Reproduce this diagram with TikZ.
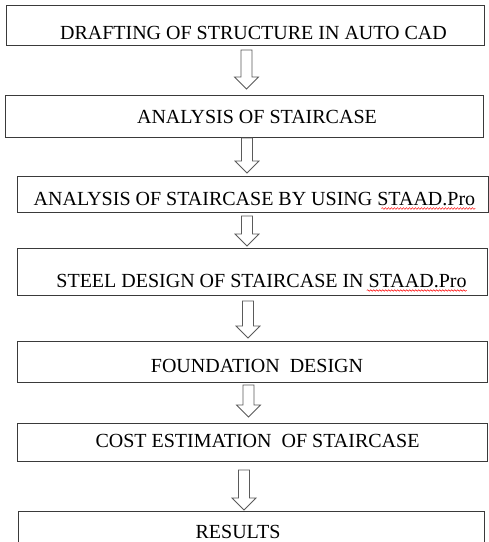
\documentclass[tikz,border=0pt]{standalone}
\usepackage{fontspec}
\setmainfont{Liberation Serif}
\usetikzlibrary{calc,decorations.pathmorphing}
\definecolor{boxgray}{HTML}{3A3A3A}
\definecolor{arrowgray}{HTML}{5A5A5A}
\newcommand\blockarr[2]{%
  \draw[blk] ($(#1)+(-5.5,0)$) -- ($(#1)+(5.5,0)$) -- ($(#2)+(5.5,-12)$) -- ($(#2)+(12,-12)$) -- (#2) -- ($(#2)+(-12,-12)$) -- ($(#2)+(-5.5,-12)$) -- cycle;}
\begin{document}
\begin{tikzpicture}[x=1pt,y=-1pt,
  stepbox/.style={draw=boxgray, line width=0.9pt, inner sep=0pt},
  lbl/.style={font=\fontsize{20}{24}\selectfont, inner sep=0pt, anchor=base},
  spell/.style={draw=red, line width=0.5pt, decorate, decoration={snake, amplitude=0.8pt, segment length=3pt}},
  blk/.style={draw=arrowgray, line width=0.8pt, fill=white, line join=miter}]
\clip (0,0) rectangle (489,542);
\fill[white] (0,0) rectangle (489,542);
% boxes
\node[stepbox, minimum width=478pt, minimum height=40pt] (b1) at (245,25) {};
\node[stepbox, minimum width=478pt, minimum height=42pt] (b2) at (244,116) {};
\node[stepbox, minimum width=471pt, minimum height=36pt] (b3) at (252.5,194) {};
\node[stepbox, minimum width=470pt, minimum height=47pt] (b4) at (252,271.5) {};
\node[stepbox, minimum width=470pt, minimum height=41pt] (b5) at (252,361.5) {};
\node[stepbox, minimum width=470pt, minimum height=38pt] (b6) at (252,442) {};
\node[stepbox, minimum width=466pt, minimum height=44pt] (b7) at (251,533) {};
% texts
\node[lbl] (t1) at (253.5,39) {DRAFTING OF STRUCTURE IN AUTO CAD};
\node[lbl] (t2) at (257,123) {ANALYSIS OF STAIRCASE};
\node[lbl] (t3) at (254.5,205) {ANALYSIS OF STAIRCASE BY USING STAAD.Pro};
\node[lbl] (t4) at (261.5,287) {STEEL DESIGN OF STAIRCASE IN STAAD.Pro};
\node[lbl] (t5) at (257,372) {FOUNDATION\ \ DESIGN};
\node[lbl] (t6) at (257.5,447) {COST ESTIMATION\ \ OF STAIRCASE};
\node[lbl] (t7) at (238,538) {RESULTS};
% spell-check underlines
\draw[spell] ($(t3.base east)+(-94,3.5)$) -- ($(t3.base east)+(0,3.5)$);
\draw[spell] ($(t4.base east)+(-100,3.5)$) -- ($(t4.base east)+(0,3.5)$);
% block arrows
\coordinate (a1s) at (246.5,50);  \coordinate (a1e) at (246.5,89);
\coordinate (a2s) at (247,138);   \coordinate (a2e) at (247,173);
\coordinate (a3s) at (247,216);   \coordinate (a3e) at (247,246);
\coordinate (a4s) at (248,301);   \coordinate (a4e) at (248,338);
\coordinate (a5s) at (248.5,385); \coordinate (a5e) at (248.5,417);
\coordinate (a6s) at (244,470);   \coordinate (a6e) at (244,510);
\blockarr{a1s}{a1e}
\blockarr{a2s}{a2e}
\blockarr{a3s}{a3e}
\blockarr{a4s}{a4e}
\blockarr{a5s}{a5e}
\blockarr{a6s}{a6e}
\end{tikzpicture}
\end{document}
